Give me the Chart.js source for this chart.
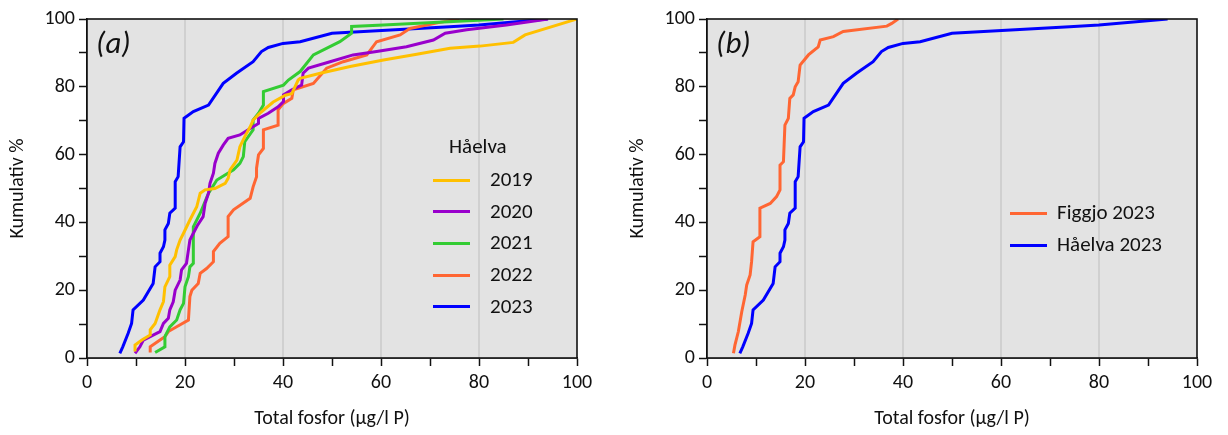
<!DOCTYPE html>
<html>
<head>
<meta charset="utf-8">
<script src="https://cdn.jsdelivr.net/npm/chart.js@4.4.1/dist/chart.umd.min.js"></script>
<style>
  body { margin: 0; background: #fff; font-family: Carlito, Lato, sans-serif; }
  #wrap { position: relative; width: 1228px; height: 435px; overflow: hidden; }
  canvas { position: absolute; top: 0; }
  .lab { position: absolute; font-size: 21px; color: #111; white-space: nowrap; line-height: 1; }
  .tag { position: absolute; font-size: 31px; font-style: italic; color: #111; line-height: 1; }
  .swatch { position: absolute; height: 3px; }
</style>
</head>
<body>
<div id="wrap">
  <canvas id="chartA" width="614" height="435" style="left:0"></canvas>
  <canvas id="chartB" width="608" height="435" style="left:620px"></canvas>
</div>
<script>
// cumulative distribution points [total fosfor, kumulativ %]
const haelva2019 = [[9.8,1.9],[9.8,3.8],[11.2,5.3],[12.9,6.8],[12.9,8.3],[13.9,10.2],[14.9,14.2],[15.6,16.6],[15.9,21],[16.9,24],[16.9,27.4],[18,29.9],[18.3,31.9],[19,34.8],[19.7,36.8],[21,40.7],[22.4,44.6],[23.1,48.6],[24.1,49.6],[26.1,50],[28.2,51.5],[28.8,53],[29.2,55.5],[30.6,58.4],[31.2,62.3],[32.2,65.3],[33.3,68.2],[33.9,70.2],[35.5,72.5],[38,75.5],[40.5,77.5],[41.8,78],[43.1,82],[43.5,82.5],[47.6,84],[53.7,86],[60.5,87.9],[67.3,89.6],[74.1,91.4],[80.2,92],[87,93.1],[89.4,95.3],[100,100]];
const haelva2020 = [[9.8,1.4],[10.8,3.3],[11.5,5.3],[12.9,6.3],[14.9,7.8],[15.6,10.2],[16.6,11.7],[16.9,14.2],[17.6,16.6],[18,20],[19,23],[19.3,26],[20.3,27.9],[20.7,31.9],[21,34.8],[21.7,36.8],[22.5,39],[23.7,41.7],[24.1,45.6],[24.8,48.6],[25.1,51.5],[25.8,54.5],[26.1,57.4],[26.8,60.4],[27.8,62.8],[28.8,64.8],[31.2,65.8],[33.3,67.7],[35,69.2],[35,70.7],[37,72.2],[39,74.1],[40.1,75.6],[40.1,77.6],[41.8,79.1],[43.8,80.5],[44.1,84],[45.2,85.5],[49.6,87.4],[54.3,89.4],[59.1,90.4],[65.2,91.8],[70.7,93.8],[73.1,95.8],[77.5,96.8],[85.6,98.2],[94.1,100]];
const haelva2021 = [[13.9,1.6],[15.9,3.3],[15.9,6.3],[16.9,9.2],[18.3,11.2],[19,14.2],[19.7,16.1],[20,21],[20.7,24],[21,26.9],[21.7,27.9],[21.7,38.7],[23.1,42.7],[24.8,48.6],[26.5,52.5],[29.9,55.5],[31.2,57.4],[31.9,59.4],[32.2,63.8],[33.9,67.3],[33.9,70.2],[35,72.2],[36,74.6],[36,78.6],[40.1,80.5],[41.1,82],[43.5,84.5],[46.2,89.4],[51.6,93.3],[54,95.8],[54,97.8],[60.5,98.2],[70.7,99],[85,100]];
const haelva2022 = [[12.9,1.6],[12.9,3.3],[14.9,5.3],[15.9,6.3],[16.6,7.8],[18.3,9.2],[20.7,11.2],[21,18.1],[21.4,20],[22.7,22],[23.1,25],[24.4,26.4],[25.8,28.4],[25.8,31.4],[27.1,33.8],[28.8,35.8],[28.8,41.7],[29.9,43.7],[33.3,47.1],[33.9,50.5],[34.6,53.5],[34.6,56],[35,59.9],[36,61.8],[36,67.3],[39,68.7],[39,73.2],[40.1,75.1],[41.8,76.6],[42.1,79.1],[46.2,81],[48.9,85.5],[52.3,87.4],[57.1,89.4],[59.1,93.3],[63.9,95.3],[65.9,97.2],[72,99],[76,100]];
const haelva2023 = [[6.7,1.4],[7.3,3.3],[8.4,7.3],[9.1,10.2],[9.4,14.2],[11.5,17.1],[13.5,22],[13.9,26.9],[14.9,28.4],[14.9,30.9],[15.6,32.8],[15.9,34.8],[15.9,37.8],[16.6,39.7],[16.9,42.7],[18,44.2],[18,52],[18.6,53.5],[19,62.3],[19.7,63.8],[19.8,70.7],[21.7,72.7],[24.8,74.6],[27.8,81],[30.5,84],[33.9,87.4],[35.6,90.4],[37,91.6],[40,92.8],[43.5,93.3],[50,95.8],[74,97.7],[80,98.2],[94,100]];
const figgjo2023 = [[5.4,1.4],[5.7,3.8],[6.4,7.8],[7.1,13.7],[7.8,18.6],[8.1,21.5],[8.8,24.5],[9.1,28.4],[9.4,34.3],[10.8,35.8],[10.8,44.2],[12.9,45.6],[14.2,47.6],[14.9,49.6],[14.9,56.9],[15.6,57.9],[15.9,68.7],[16.6,70.7],[16.9,76.6],[17.6,77.6],[18,80],[18.6,81.5],[19,86.4],[20.7,89.4],[22.7,91.8],[23.1,93.8],[25.8,94.8],[27.8,96.3],[36.7,97.9],[37.7,98.7],[39,100]];

const seriesA = [haelva2019, haelva2020, haelva2021, haelva2022, haelva2023];
const labelsA = ['2019', '2020', '2021', '2022', '2023'];
const colorsA = ['#ffc000', '#9900cc', '#33cc33', '#ff6633', '#0000ff'];
const seriesB = [figgjo2023, haelva2023];
const labelsB = ['Figgjo 2023', 'Håelva 2023'];
const colorsB = ['#ff6633', '#0000ff'];

const xTicks = [0, 20, 40, 60, 80, 100];
const yTicks = [0, 20, 40, 60, 80, 100];
const gridAt = [20, 40, 60, 80];

const fontFam = 'Carlito, Lato, sans-serif';

// grey plot background and closed black frame
const frame = {
    id: 'frame',
    beforeDatasetsDraw(chart) {
        const a = chart.chartArea, c = chart.ctx;
        c.save();
        c.fillStyle = '#e3e3e3';
        c.fillRect(a.left, a.top, a.right - a.left, a.bottom - a.top);
        c.strokeStyle = '#cacaca';
        c.lineWidth = 1.5;
        gridAt.forEach(v => {
            const x = chart.scales.x.getPixelForValue(v);
            c.beginPath(); c.moveTo(x, a.top); c.lineTo(x, a.bottom); c.stroke();
        });
        c.restore();
    },
    afterDraw(chart) {
        const a = chart.chartArea, c = chart.ctx;
        c.save();
        c.strokeStyle = '#111';
        c.lineWidth = 1.6;
        c.strokeRect(a.left, a.top, a.right - a.left, a.bottom - a.top);
        c.restore();
    }
};

function makeChart(id, series, colors, padRight) {
    return new Chart(document.getElementById(id), {
        type: 'line',
        data: {
            datasets: series.map((s, i) => ({
                data: s.map(p => ({ x: p[0], y: p[1] })),
                borderColor: colors[i],
                borderWidth: 3,
                pointRadius: 0,
                tension: 0,
                fill: false
            }))
        },
        options: {
            responsive: false,
            animation: false,
            layout: { padding: { top: 19, right: padRight, bottom: 0, left: 0 } },
            plugins: { legend: { display: false }, tooltip: { enabled: false } },
            scales: {
                x: {
                    type: 'linear', min: 0, max: 100,
                    afterFit: s => { s.height = 77; },
                    border: { color: '#111', width: 1.6 },
                    grid: { drawOnChartArea: false, tickLength: 8, tickColor: '#111', tickWidth: 1.5 },
                    ticks: {
                        stepSize: 10, autoSkip: false, maxRotation: 0, padding: 5,
                        color: '#111', font: { family: fontFam, size: 20 },
                        callback: v => xTicks.includes(v) ? v : ''
                    },
                    title: {
                        display: true, text: 'Total fosfor (μg/l P)', color: '#111',
                        font: { family: fontFam, size: 20 }, padding: { top: 0, bottom: 4 }
                    }
                },
                y: {
                    min: 0, max: 100,
                    afterFit: s => { s.width = 87; },
                    border: { color: '#111', width: 1.6 },
                    grid: { drawOnChartArea: false, tickLength: 8, tickColor: '#111', tickWidth: 1.5 },
                    ticks: {
                        stepSize: 10, autoSkip: false, padding: 4,
                        color: '#111', font: { family: fontFam, size: 20 },
                        callback: v => yTicks.includes(v) ? v : ''
                    },
                    title: {
                        display: true, text: 'Kumulativ %', color: '#111',
                        font: { family: fontFam, size: 20 }, padding: { top: 6, bottom: 0 }
                    }
                }
            }
        },
        plugins: [frame]
    });
}

function addText(cls, text, left, top) {
    const el = document.createElement('div');
    el.className = cls;
    el.textContent = text;
    el.style.left = left + 'px';
    el.style.top = top + 'px';
    document.getElementById('wrap').appendChild(el);
}

function addLegend(labels, colors, lineLeft, textLeft, firstRow, rowStep) {
    labels.forEach((t, i) => {
        const y = firstRow + i * rowStep;
        const sw = document.createElement('div');
        sw.className = 'swatch';
        sw.style.left = lineLeft + 'px';
        sw.style.top = (y - 1.5) + 'px';
        sw.style.width = '37px';
        sw.style.background = colors[i];
        document.getElementById('wrap').appendChild(sw);
        addText('lab', t, textLeft, y - 11);
    });
}

document.addEventListener('DOMContentLoaded', function () {
    makeChart('chartA', seriesA, colorsA, 37);
    makeChart('chartB', seriesB, colorsB, 31);

    addText('tag', '(a)', 96, 27);
    addText('tag', '(b)', 716, 27);

    addText('lab', 'Håelva', 449, 136);
    addLegend(labelsA, colorsA, 433, 490, 180, 31.7);
    addLegend(labelsB, colorsB, 1010, 1057, 213, 32);
});
</script>
</body>
</html>
